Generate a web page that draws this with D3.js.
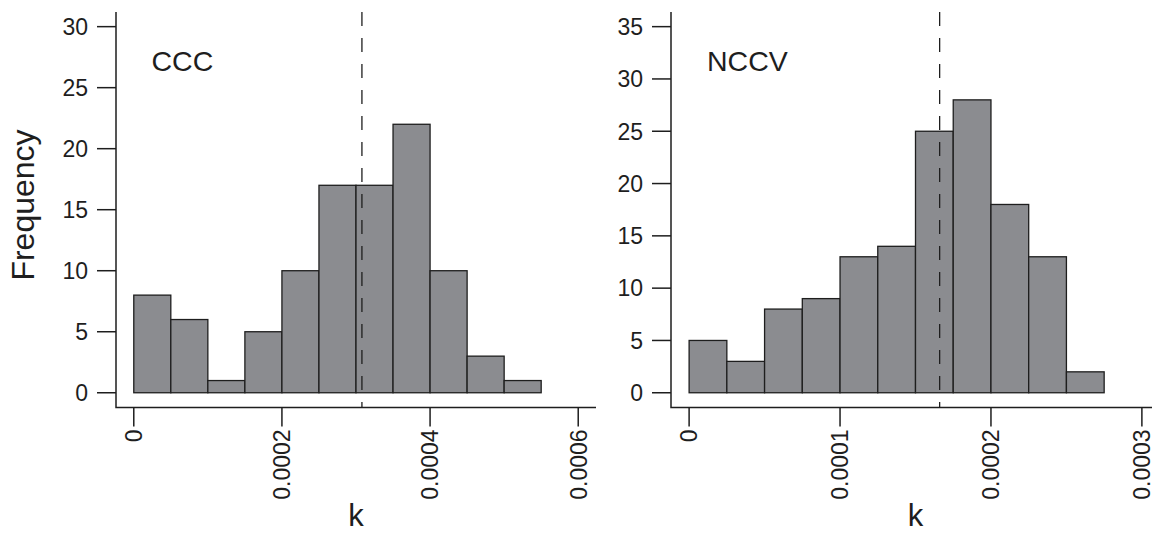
<!DOCTYPE html>
<html>
<head>
<meta charset="utf-8">
<script src="https://cdn.jsdelivr.net/npm/d3@7"></script>
<style>
  html, body { margin: 0; padding: 0; background: #fff; }
  svg { display: block; font-family: "Liberation Sans", Arial, sans-serif; }
</style>
</head>
<body>
<div id="chart"></div>
<script>
(function () {
  // ------------------------------------------------
  // data
  // ------------------------------------------------
  const cccBinWidth = 0.00005;
  const cccCounts = [8, 6, 1, 5, 10, 17, 17, 22, 10, 3, 1, 0, 0];
  const cccXTicks = [0, 0.0002, 0.0004, 0.0006];
  const cccXTickLabels = ["0", "0.0002", "0.0004", "0.0006"];
  const cccYTicks = [0, 5, 10, 15, 20, 25, 30];
  const cccMean = 0.000308;

  const nccvBinWidth = 0.000025;
  const nccvCounts = [5, 3, 8, 9, 13, 14, 25, 28, 18, 13, 2, 0, 0];
  const nccvXTicks = [0, 0.0001, 0.0002, 0.0003];
  const nccvXTickLabels = ["0", "0.0001", "0.0002", "0.0003"];
  const nccvYTicks = [0, 5, 10, 15, 20, 25, 30, 35];
  const nccvMean = 0.000166;

  const panels = [
    { name: "CCC", binWidth: cccBinWidth, counts: cccCounts, xlim: [0, 0.0006], ylim: [0, 30],
      xTicks: cccXTicks, xLabels: cccXTickLabels, yTicks: cccYTicks, mean: cccMean,
      left: 116, right: 596, labelX: 35.5, showYLabel: true },
    { name: "NCCV", binWidth: nccvBinWidth, counts: nccvCounts, xlim: [0, 0.0003], ylim: [0, 35],
      xTicks: nccvXTicks, xLabels: nccvXTickLabels, yTicks: nccvYTicks, mean: nccvMean,
      left: 671, right: 1160, labelX: 36, showYLabel: false }
  ];

  // ------------------------------------------------
  // layout
  // ------------------------------------------------
  const W = 1152, H = 533;
  const top = 12, bottom = 407.4;
  const ink = "#1e1e1e";
  const tickLen = 19;

  const svg = d3.select("#chart").append("svg")
    .attr("width", W).attr("height", H);

  // R-style 4% axis padding
  function pad(lim) {
    const d = (lim[1] - lim[0]) * 0.04;
    return [lim[0] - d, lim[1] + d];
  }

  panels.forEach((p, i) => {
    const x = d3.scaleLinear().domain(pad(p.xlim)).range([p.left, p.right]);
    const y = d3.scaleLinear().domain(pad(p.ylim)).range([bottom, top]);

    const clipId = "clip" + i;
    svg.append("clipPath").attr("id", clipId)
      .append("rect")
      .attr("x", p.left).attr("y", top)
      .attr("width", p.right - p.left).attr("height", bottom - top);

    const plot = svg.append("g").attr("clip-path", `url(#${clipId})`);

    // bars
    plot.selectAll("rect.bar")
      .data(p.counts)
      .enter()
      .append("rect")
      .attr("class", "bar")
      .attr("x", (d, j) => x(j * p.binWidth))
      .attr("y", d => y(d))
      .attr("width", (d, j) => x((j + 1) * p.binWidth) - x(j * p.binWidth))
      .attr("height", d => y(0) - y(d))
      .attr("fill", "#8b8c90")
      .attr("stroke", ink)
      .attr("stroke-width", 1.3);

    // mean line
    plot.append("line")
      .attr("x1", x(p.mean)).attr("x2", x(p.mean))
      .attr("y1", top).attr("y2", bottom)
      .attr("stroke", ink)
      .attr("stroke-width", 1.3)
      .attr("stroke-dasharray", "14,12");

    // L-shaped frame
    svg.append("path")
      .attr("d", `M${p.left},${top}V${bottom}H${Math.min(p.right, W)}`)
      .attr("fill", "none")
      .attr("stroke", ink)
      .attr("stroke-width", 1.5);

    // y axis ticks
    const yt = svg.append("g");
    yt.selectAll("line")
      .data(p.yTicks).enter().append("line")
      .attr("x1", p.left - tickLen).attr("x2", p.left)
      .attr("y1", d => y(d)).attr("y2", d => y(d))
      .attr("stroke", ink).attr("stroke-width", 1.5);
    yt.selectAll("text")
      .data(p.yTicks).enter().append("text")
      .attr("x", p.left - tickLen - 9)
      .attr("y", d => y(d))
      .attr("dy", "0.36em")
      .attr("text-anchor", "end")
      .style("font-size", "23px")
      .style("fill", ink)
      .text(d => d);

    // x axis ticks
    const xt = svg.append("g");
    xt.selectAll("line")
      .data(p.xTicks).enter().append("line")
      .attr("x1", d => x(d)).attr("x2", d => x(d))
      .attr("y1", bottom).attr("y2", bottom + tickLen)
      .attr("stroke", ink).attr("stroke-width", 1.5);
    xt.selectAll("text")
      .data(p.xTicks).enter().append("text")
      .attr("transform", d => `translate(${x(d)},${bottom + tickLen + 3}) rotate(-90)`)
      .attr("dy", "0.36em")
      .attr("text-anchor", "end")
      .style("font-size", "23px")
      .style("fill", ink)
      .text((d, j) => p.xLabels[j]);

    // panel name
    svg.append("text")
      .attr("x", p.left + p.labelX)
      .attr("y", 71)
      .style("font-size", "28.5px")
      .style("fill", ink)
      .text(p.name);

    // x title
    svg.append("text")
      .attr("x", (p.left + p.right) / 2)
      .attr("y", 526)
      .attr("text-anchor", "middle")
      .style("font-size", "31px")
      .style("fill", ink)
      .text("k");

    if (p.showYLabel) {
      svg.append("text")
        .attr("transform", `translate(34,205) rotate(-90)`)
        .attr("text-anchor", "middle")
        .style("font-size", "32px")
        .style("fill", ink)
        .text("Frequency");
    }
  });
})();
</script>
</body>
</html>
